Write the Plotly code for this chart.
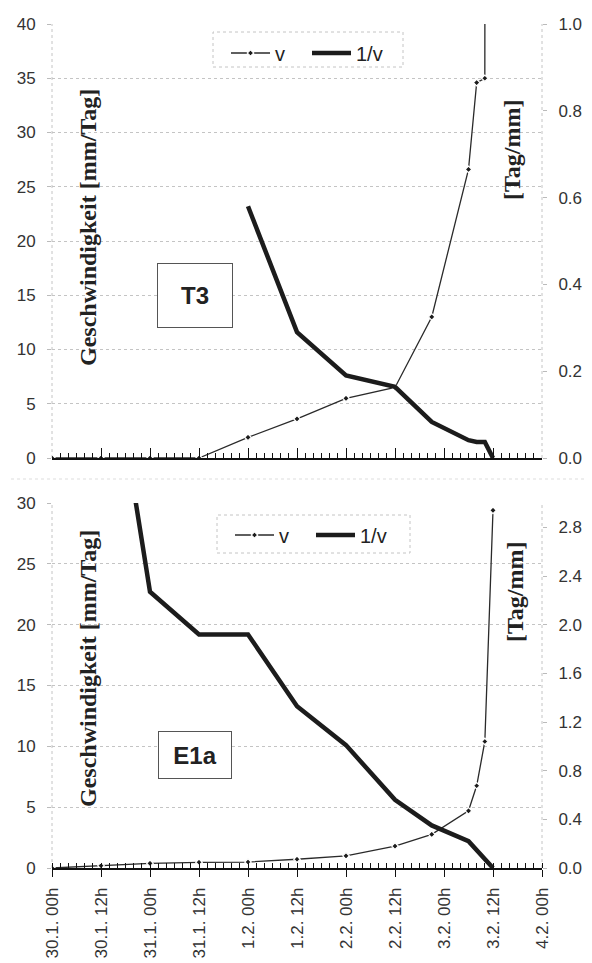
import plotly.graph_objects as go

# ---- data (hours since 30.1. 00h) ----
hours = [0, 12, 24, 36, 48, 60, 72, 84, 93, 102, 104, 106, 108]

tick_hours = [0, 12, 24, 36, 48, 60, 72, 84, 96, 108, 120]
tick_labels = ["30.1. 00h", "30.1. 12h", "31.1. 00h", "31.1. 12h", "1.2. 00h",
               "1.2. 12h", "2.2. 00h", "2.2. 12h", "3.2. 00h", "3.2. 12h", "4.2. 00h"]

# Panel T3
v_t3 = [0, 0, 0, 0, 1.9, 3.6, 5.5, 6.5, 13.0, 26.6, 34.6, 35.0, 1000]
inv_t3 = [None, None, None, None, 0.58, 0.29, 0.19, 0.164, 0.083, 0.041, 0.037, 0.037, 0.0]

# Panel E1a
v_e1a = [0.0, 0.19, 0.38, 0.47, 0.49, 0.72, 1.0, 1.8, 2.77, 4.7, 6.76, 10.4, 29.4]
inv_e1a = [None, 4.8, 2.27, 1.92, 1.92, 1.33, 1.01, 0.56, 0.35, 0.22, 0.15, 0.08, 0.0]

# page has an 8px body margin -> figure drawn from (8, 8)
OFF = 8
W, H = 592 - OFF, 963 - OFF
PL, PR, PT, PB = 52, 542, 24, 868          # plot area in page pixels
ML, MR, MT, MB = PL - OFF, (W + OFF) - PR, PT - OFF, (H + OFF) - PB
PH = PB - PT
PW = PR - PL


def py(px):
    return (PB - px) / PH


def pxx(px):
    return (px - PL) / PW


THIN = dict(color="#2a2a2a", width=1.3)
THICK = dict(color="#1c1c1c", width=4.5)
MARK = dict(symbol="diamond", size=5, color="#1c1c1c", line=dict(color="white", width=1.2))

fig = go.Figure()
fig.add_trace(go.Scatter(x=hours, y=v_t3, name="v", mode="lines+markers", line=THIN,
                         marker=MARK, xaxis="x", yaxis="y", legend="legend"))
fig.add_trace(go.Scatter(x=hours, y=inv_t3, name="1/v", mode="lines", line=THICK,
                         xaxis="x", yaxis="y2", legend="legend"))
fig.add_trace(go.Scatter(x=hours, y=v_e1a, name="v", mode="lines+markers", line=THIN,
                         marker=MARK, xaxis="x2", yaxis="y3", legend="legend2"))
fig.add_trace(go.Scatter(x=hours, y=inv_e1a, name="1/v", mode="lines", line=THICK,
                         xaxis="x2", yaxis="y4", legend="legend2"))

TF = dict(family="Liberation Sans, Arial", size=17, color="#333333")

xcommon = dict(range=[0, 120], tickvals=tick_hours, ticktext=tick_labels,
               showgrid=False, zeroline=False, tickwidth=1.3, tickcolor="#111111",
               tickfont=TF, automargin=False, fixedrange=True)
xmain = dict(xcommon, showline=True, linecolor="#111111", linewidth=1.5,
             minor=dict(ticks="inside", ticklen=5, dtick=2, tick0=0, tickcolor="#111111",
                        tickwidth=1, showgrid=False))
xover = dict(xcommon, showline=False, showticklabels=False)

ycommon = dict(showgrid=True, gridcolor="#c4c4c4", griddash="dot", gridwidth=1,
               zeroline=False, showline=False, ticks="outside", ticklen=4,
               tickcolor="#bbbbbb", tickfont=TF, automargin=False, ticklabelstandoff=8)
yright = dict(showgrid=False, zeroline=False, showline=False, ticks="outside", ticklen=4,
              tickcolor="#bbbbbb", tickfont=TF, automargin=False, ticklabelstandoff=8,
              tickformat=".1f", side="right")

top_dom = [py(458), 1.0]
bot_dom = [0.0, py(503)]

LEGFONT = dict(family="Liberation Sans, Arial", size=20, color="#222222")
LEG = dict(orientation="h", xanchor="left", yanchor="middle", bgcolor="rgba(0,0,0,0)",
           borderwidth=0, font=LEGFONT, entrywidth=27, itemwidth=39)
fig.update_layout(
    width=W, height=H,
    margin=dict(l=ML, r=MR, t=MT, b=MB),
    paper_bgcolor="white", plot_bgcolor="white",
    xaxis=dict(xmain, anchor="y", showticklabels=False, ticks="inside", ticklen=10),
    xaxis3=dict(xover, anchor="y", overlaying="x", ticks="outside", ticklen=7),
    xaxis2=dict(xmain, anchor="y3", tickangle=-90, ticklabelstandoff=4,
                ticks="outside", ticklen=7),
    xaxis4=dict(xover, anchor="y3", overlaying="x2", ticks="inside", ticklen=6),
    yaxis=dict(ycommon, domain=top_dom, range=[0, 40], dtick=5, anchor="x"),
    yaxis2=dict(yright, range=[0, 1.0], dtick=0.2, overlaying="y", anchor="x"),
    yaxis3=dict(ycommon, domain=bot_dom, range=[0, 30], dtick=5, anchor="x2"),
    yaxis4=dict(yright, range=[0, 3.0], dtick=0.4, tick0=0, overlaying="y3", anchor="x2"),
    legend=dict(LEG, x=pxx(226), y=py(53)),
    legend2=dict(LEG, x=pxx(230), y=py(535)),
    showlegend=True,
)

SERIF = dict(family="Liberation Serif, Times New Roman", size=24, color="#222222")
ROT = dict(xref="paper", yref="paper", textangle=-90, showarrow=False, font=SERIF,
           xanchor="center", yanchor="middle")
BOXFONT = dict(family="Liberation Sans, Arial", size=24, color="#222222")
annos = [
    dict(ROT, text="<b>Geschwindigkeit [mm/Tag]</b>", x=pxx(88), y=py(228)),
    dict(ROT, text="<b>Geschwindigkeit [mm/Tag]</b>", x=pxx(88), y=py(669)),
    dict(ROT, text="<b>[Tag/mm]</b>", x=pxx(512), y=py(150)),
    dict(ROT, text="<b>[Tag/mm]</b>", x=pxx(515), y=py(592)),
    dict(text="<b>T3</b>", xref="x", yref="y", x=35, y=15, showarrow=False,
         font=BOXFONT, bordercolor="#555555", borderwidth=1, borderpad=0,
         width=74, height=63, bgcolor="white", xanchor="center", yanchor="middle"),
    dict(text="<b>E1a</b>", xref="x2", yref="y3", x=35, y=9.3, showarrow=False,
         font=BOXFONT, bordercolor="#555555", borderwidth=1, borderpad=0,
         width=72, height=46, bgcolor="white", xanchor="center", yanchor="middle"),
]
fig.update_layout(annotations=annos)

DOT = dict(color="#c4c4c4", width=1, dash="dot")
shapes = []
for xr, yr in (("x domain", "y domain"), ("x2 domain", "y3 domain")):
    for xx in (0, 1):
        shapes.append(dict(type="line", xref=xr, yref=yr, x0=xx, x1=xx, y0=0, y1=1,
                           line=DOT, layer="below"))
# legend frames (dotted, as in the original)
shapes.append(dict(type="rect", xref="paper", yref="paper", x0=pxx(213), x1=pxx(403),
                   y0=py(67), y1=py(32), line=DOT, fillcolor="white", layer="below"))
shapes.append(dict(type="rect", xref="paper", yref="paper", x0=pxx(217), x1=pxx(410),
                   y0=py(553), y1=py(515), line=DOT, fillcolor="white", layer="below"))
# faint separator between the two chart images
shapes.append(dict(type="line", xref="paper", yref="paper", x0=pxx(5), x1=pxx(592),
                   y0=py(479), y1=py(479), line=dict(color="#dddddd", width=1, dash="dot")))
fig.update_layout(shapes=shapes)

fig.write_html("out.html")
